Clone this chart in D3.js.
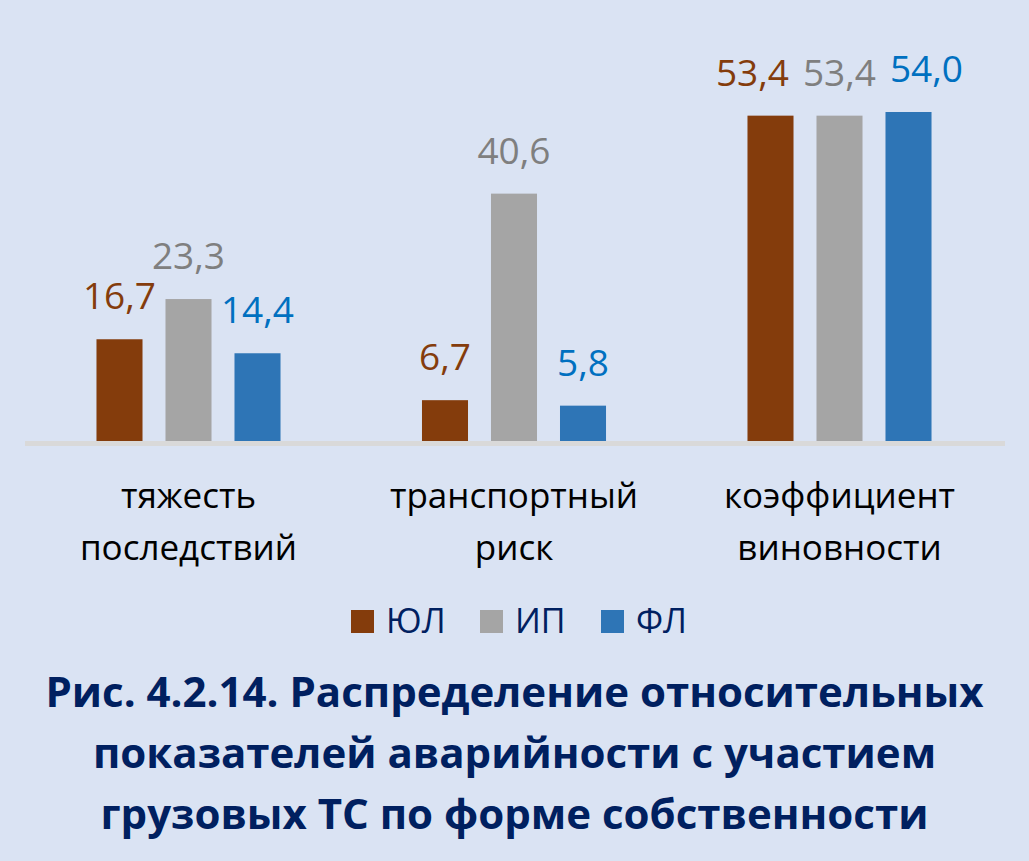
<!DOCTYPE html>
<html><head><meta charset="utf-8">
<script src="https://cdn.jsdelivr.net/npm/d3@7"></script>
<style>html,body{margin:0;padding:0;background:#DAE3F3;}svg{display:block;}</style>
</head><body>
<svg id="chart" width="1029" height="861"></svg>
<script>
const categories = [["тяжесть","последствий"],["транспортный","риск"],["коэффициент","виновности"]];
const seriesNames = ["ЮЛ","ИП","ФЛ"];
const valuesUL = [16.7, 6.7, 53.4];
const valuesIP = [23.3, 40.6, 53.4];
const valuesFL = [14.4, 5.8, 54.0];
const barColors = ["#843C0C","#A5A5A5","#2E75B6"];
const labelColors = ["#843C0C","#7F7F7F","#0070C0"];
const titleLines = ["Рис. 4.2.14. Распределение относительных","показателей аварийности с участием","грузовых ТС по форме собственности"];

const series = [valuesUL, valuesIP, valuesFL];
const svg = d3.select("#chart");
const W = 1029, H = 861;
svg.append("rect").attr("width",W).attr("height",H).attr("fill","#DAE3F3");

const font = "'Open Sans', sans-serif";
const x0 = d3.scaleBand().domain(d3.range(categories.length)).range([25.75,1002.25]).paddingInner(0).paddingOuter(0);
const x1 = d3.scaleBand().domain(d3.range(seriesNames.length)).range([0, x0.bandwidth()]).paddingInner(0.333).paddingOuter(1.025);
const y = d3.scaleLinear().domain([0,54]).range([441,112]);

const g = svg.append("g");
categories.forEach((c,ci)=>{
  // label layout: keep the middle label, push neighbours outward if they collide
  const items = series.map((s,si)=>({si, v:s[ci], cx:x0(ci)+x1(si)+x1.bandwidth()/2, ty:y(s[ci])-30}));
  const minGap = 87, m = 1;
  const close = (a,b)=>Math.abs(a.ty-b.ty)<36;
  for(let k=m+1;k<items.length;k++){ if(close(items[k],items[k-1])) items[k].cx=Math.max(items[k].cx, items[k-1].cx+minGap); }
  for(let k=m-1;k>=0;k--){ if(close(items[k],items[k+1])) items[k].cx=Math.min(items[k].cx, items[k+1].cx-minGap); }
  series.forEach((s,si)=>{
    const bx = x0(ci)+x1(si);
    g.append("rect").attr("x",bx).attr("y",y(s[ci])).attr("width",x1.bandwidth()).attr("height",y(0)-y(s[ci])).attr("fill",barColors[si]);
  });
  items.forEach(it=>{
    g.append("text").attr("x",it.cx).attr("y",it.ty)
      .attr("text-anchor","middle").attr("font-family",font).attr("font-size",37)
      .attr("fill",labelColors[it.si]).text(d3.format(".1f")(it.v).replace(".",","));
  });
  c.forEach((line,li)=>{
    g.append("text").attr("x",x0(ci)+x0.bandwidth()/2).attr("y",508+li*52)
      .attr("text-anchor","middle").attr("font-family",font).attr("font-size",35)
      .attr("fill","#000").text(line);
  });
});
// axis line
g.append("line").attr("x1",25).attr("x2",1005).attr("y1",y(0)+2.5).attr("y2",y(0)+2.5).attr("stroke","#D9D9D9").attr("stroke-width",5);

// legend
const legendX = [351, 480, 601];
seriesNames.forEach((n,i)=>{
  g.append("rect").attr("x",legendX[i]).attr("y",610).attr("width",23).attr("height",23).attr("fill",barColors[i]);
  g.append("text").attr("x",legendX[i]+35).attr("y",633).attr("font-family",font).attr("font-size",34).attr("fill","#002060").text(n);
});
// title
titleLines.forEach((t,i)=>{
  g.append("text").attr("x",514.5).attr("y",707+i*61).attr("text-anchor","middle")
    .attr("font-family",font).attr("font-weight","bold").attr("font-size",42).attr("fill","#002060").text(t);
});
</script>
</body></html>
